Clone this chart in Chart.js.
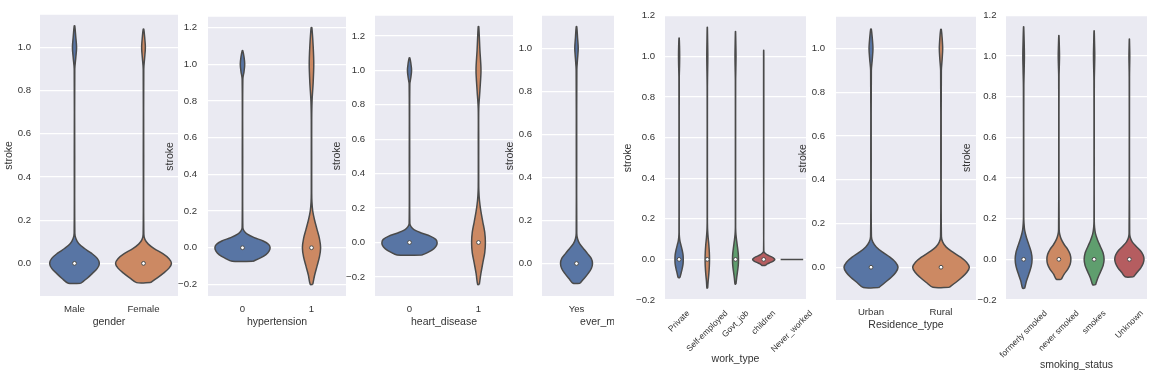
<!DOCTYPE html>
<html><head><meta charset="utf-8">
<script src="https://cdn.jsdelivr.net/npm/chart.js@4"></script>
<style>
html,body{margin:0;padding:0;background:#fff;}
#fig{position:relative;width:1164px;height:377px;overflow:hidden;background:#fff;}
.pane{position:absolute;top:0;height:377px;overflow:hidden;}
canvas{display:block;}
</style></head><body><div id="fig"></div>
<script>
// ---------- tick labels ----------
const yTicksShort = [0.0, 0.2, 0.4, 0.6, 0.8, 1.0];
const yTickLabelsShort = ['0.0', '0.2', '0.4', '0.6', '0.8', '1.0'];
const yTicksLong = [-0.2, 0.0, 0.2, 0.4, 0.6, 0.8, 1.0, 1.2];
const yTickLabelsLong = ['\u22120.2', '0.0', '0.2', '0.4', '0.6', '0.8', '1.0', '1.2'];

// ---------- categories ----------
const genderCats = ['Male', 'Female'];
const hypertensionCats = ['0', '1'];
const heartCats = ['0', '1'];
const marriedCats = ['Yes', 'No'];
const workCats = ['Private', 'Self-employed', 'Govt_job', 'children', 'Never_worked'];
const residenceCats = ['Urban', 'Rural'];
const smokingCats = ['formerly smoked', 'never smoked', 'smokes', 'Unknown'];

// ---------- violin outlines: stroke levels (Y) and half-widths in category units (W) ----------
const genderY = [
  [-0.092,-0.07,-0.046,-0.023,0,0.023,0.046,0.07,0.092,0.115,0.14,0.5,0.9,0.95,1.0,1.05,1.1],
  [-0.089,-0.067,-0.045,-0.022,0,0.022,0.045,0.067,0.089,0.11,0.135,0.5,0.9,0.95,1.0,1.05,1.085]];
const genderW = [
  [0.09,0.18,0.26,0.33,0.36,0.33,0.25,0.14,0.06,0.02,0.005,0.003,0.004,0.018,0.03,0.018,0.004],
  [0.1,0.2,0.29,0.37,0.405,0.37,0.28,0.16,0.07,0.022,0.005,0.003,0.004,0.016,0.027,0.016,0.004]];
const genderMed = [0, 0];

const hypertensionY = [
  [-0.074,-0.055,-0.037,-0.018,0,0.018,0.037,0.055,0.074,0.092,0.11,0.5,0.92,0.96,1.0,1.04,1.074],
  [-0.2,-0.15,-0.1,-0.05,0,0.05,0.1,0.15,0.2,0.25,0.3,0.5,0.7,0.8,0.9,1.0,1.1,1.2]];
const hypertensionW = [
  [0.15,0.26,0.34,0.385,0.40,0.38,0.3,0.17,0.07,0.022,0.005,0.003,0.005,0.022,0.032,0.022,0.004],
  [0.018,0.045,0.08,0.115,0.132,0.115,0.08,0.045,0.018,0.006,0.003,0.003,0.003,0.008,0.024,0.033,0.024,0.005]];
const hypertensionMed = [0, 0];

const heartY = [
  [-0.073,-0.055,-0.037,-0.018,0,0.018,0.037,0.055,0.073,0.092,0.11,0.5,0.92,0.96,1.0,1.04,1.073],
  [-0.244,-0.18,-0.12,-0.06,0,0.06,0.12,0.18,0.244,0.3,0.36,0.6,0.78,0.88,1.0,1.12,1.254]];
const heartW = [
  [0.18,0.28,0.35,0.39,0.40,0.38,0.3,0.17,0.07,0.022,0.005,0.003,0.005,0.02,0.03,0.02,0.004],
  [0.012,0.035,0.062,0.09,0.1,0.09,0.062,0.035,0.014,0.005,0.003,0.003,0.004,0.02,0.036,0.02,0.004]];
const heartMed = [0, 0];

const marriedY = [
  [-0.092,-0.07,-0.046,-0.023,0,0.023,0.046,0.07,0.092,0.115,0.14,0.5,0.9,0.95,1.0,1.05,1.1]];
const marriedW = [
  [0.05,0.11,0.17,0.215,0.232,0.215,0.16,0.1,0.045,0.015,0.004,0.003,0.005,0.015,0.025,0.015,0.004]];
const marriedMed = [0];

const workY = [
  [-0.09,-0.068,-0.045,-0.022,0,0.022,0.045,0.068,0.09,0.112,0.135,0.5,0.9,0.95,1.0,1.05,1.09],
  [-0.142,-0.107,-0.071,-0.035,0,0.035,0.071,0.107,0.142,0.178,0.21,0.5,0.85,0.93,1.0,1.07,1.143],
  [-0.122,-0.092,-0.061,-0.03,0,0.03,0.061,0.092,0.122,0.152,0.18,0.5,0.88,0.94,1.0,1.06,1.122],
  [-0.03,-0.022,-0.015,-0.008,0,0.008,0.015,0.022,0.03,0.04,0.5,1.0,1.03],
  [0]];
const workW = [
  [0.03,0.07,0.11,0.14,0.147,0.14,0.11,0.07,0.03,0.01,0.004,0.004,0.006,0.015,0.02,0.015,0.004],
  [0.012,0.03,0.055,0.072,0.078,0.072,0.055,0.03,0.012,0.005,0.004,0.004,0.005,0.012,0.018,0.012,0.003],
  [0.016,0.04,0.07,0.097,0.106,0.097,0.07,0.04,0.016,0.005,0.004,0.004,0.005,0.012,0.018,0.012,0.003],
  [0.06,0.13,0.24,0.34,0.395,0.34,0.24,0.13,0.05,0.004,0.004,0.004,0.002],
  [0.4]];
const workMed = [0, 0, 0, 0, null];

const residenceY = [
  [-0.093,-0.07,-0.046,-0.023,0,0.023,0.046,0.07,0.093,0.116,0.14,0.5,0.9,0.95,1.0,1.05,1.09],
  [-0.092,-0.07,-0.046,-0.023,0,0.023,0.046,0.07,0.092,0.115,0.14,0.5,0.9,0.95,1.0,1.05,1.088]];
const residenceW = [
  [0.11,0.2,0.29,0.355,0.386,0.35,0.27,0.16,0.075,0.025,0.006,0.003,0.005,0.018,0.028,0.018,0.004],
  [0.115,0.21,0.3,0.37,0.405,0.365,0.28,0.165,0.075,0.025,0.006,0.003,0.005,0.016,0.024,0.016,0.004]];
const residenceMed = [0, 0];

const smokingY = [
  [-0.142,-0.107,-0.071,-0.035,0,0.035,0.071,0.107,0.142,0.178,0.21,0.5,0.85,0.93,1.0,1.07,1.143],
  [-0.098,-0.073,-0.049,-0.024,0,0.024,0.049,0.073,0.098,0.122,0.147,0.5,0.9,0.95,1.0,1.05,1.1],
  [-0.125,-0.094,-0.062,-0.031,0,0.031,0.062,0.094,0.125,0.156,0.187,0.5,0.88,0.94,1.0,1.06,1.123],
  [-0.086,-0.064,-0.043,-0.021,0,0.021,0.043,0.064,0.086,0.107,0.13,0.5,0.9,0.95,1.0,1.04,1.083]];
const smokingW = [
  [0.03,0.08,0.15,0.215,0.24,0.215,0.15,0.08,0.03,0.01,0.004,0.003,0.006,0.015,0.022,0.015,0.003],
  [0.07,0.15,0.25,0.32,0.34,0.32,0.25,0.15,0.07,0.025,0.008,0.003,0.005,0.012,0.018,0.012,0.003],
  [0.04,0.1,0.18,0.255,0.283,0.255,0.18,0.1,0.04,0.013,0.004,0.003,0.005,0.012,0.018,0.012,0.003],
  [0.12,0.22,0.32,0.39,0.415,0.39,0.31,0.19,0.08,0.025,0.008,0.003,0.004,0.008,0.012,0.008,0.002]];
const smokingMed = [0, 0, 0, 0];

// ---------- styling ----------
const FONT = '"Liberation Sans", Arial, sans-serif';
const TXT = '#333333';
const GRAY = '#4a4a4a';
const PAL = ['#5875A4', '#CC8963', '#5F9E6E', '#B55D60', '#857AAB'];

const panels = [
  {title:'gender', cats:genderCats, Y:genderY, W:genderW, med:genderMed, yt:yTicksShort, ytl:yTickLabelsShort,
   ymin:-0.151, ymax:1.151, L:3, l:40, r:178, t:14, b:296, clip:null, xTitleY:321.7, xTickPad:7.5, yTickPad:9, rotated:false},
  {title:'hypertension', cats:hypertensionCats, Y:hypertensionY, W:hypertensionW, med:hypertensionMed, yt:yTicksLong, ytl:yTickLabelsLong,
   ymin:-0.263, ymax:1.259, L:164, l:208, r:346, t:14, b:296, clip:null, xTitleY:321.7, xTickPad:7.5, yTickPad:11, rotated:false},
  {title:'heart_disease', cats:heartCats, Y:heartY, W:heartW, med:heartMed, yt:yTicksLong, ytl:yTickLabelsLong,
   ymin:-0.311, ymax:1.317, L:331, l:375, r:513, t:14, b:296, clip:null, xTitleY:322.5, xTickPad:7.5, yTickPad:10, rotated:false},
  {title:'ever_married', cats:marriedCats, Y:marriedY, W:marriedW, med:marriedMed, yt:yTicksShort, ytl:yTickLabelsShort,
   ymin:-0.151, ymax:1.151, L:504, l:542, r:680, t:14, b:296, clip:614, xTitleY:321.7, xTickPad:7.5, yTickPad:10, rotated:false},
  {title:'work_type', cats:workCats, Y:workY, W:workW, med:workMed, yt:yTicksLong, ytl:yTickLabelsLong,
   ymin:-0.2, ymax:1.2, L:622, l:665, r:806, t:13, b:300, clip:null, xTitleY:359.3, xTickPad:7.5, yTickPad:10, rotated:true},
  {title:'Residence_type', cats:residenceCats, Y:residenceY, W:residenceW, med:residenceMed, yt:yTicksShort, ytl:yTickLabelsShort,
   ymin:-0.150, ymax:1.146, L:797, l:836, r:976, t:13, b:300, clip:null, xTitleY:325, xTickPad:7, yTickPad:11, rotated:false},
  {title:'smoking_status', cats:smokingCats, Y:smokingY, W:smokingW, med:smokingMed, yt:yTicksLong, ytl:yTickLabelsLong,
   ymin:-0.2, ymax:1.2, L:961, l:1006, r:1147, t:13, b:300, clip:null, xTitleY:365, xTickPad:7.5, yTickPad:9.5, rotated:true}
];

const EXTRA = 14; // room to the right of the plot for overhanging labels

const bgPlugin = {
  id: 'bg',
  beforeDraw(chart) {
    const {ctx, chartArea: a} = chart;
    ctx.save();
    ctx.fillStyle = '#EAEAF2';
    ctx.fillRect(a.left, a.top, a.right - a.left, a.bottom - a.top);
    ctx.restore();
  }
};

function rotPlugin(p) {
  return {
    id: 'rot',
    afterDraw(chart) {
      const ctx = chart.ctx, xs = chart.scales.x, a = chart.chartArea;
      const fs = 8.5;
      ctx.save();
      ctx.font = fs + 'px ' + FONT;
      ctx.fillStyle = TXT;
      ctx.textAlign = 'center';
      ctx.textBaseline = 'middle';
      p.cats.forEach((c, i) => {
        const w = ctx.measureText(c).width;
        const hh = (w + fs) * Math.SQRT1_2 / 2;
        const x = xs.getPixelForValue(i);
        const y = a.bottom + 9 + hh;
        ctx.save();
        ctx.translate(x, y);
        ctx.rotate(-Math.PI / 4);
        ctx.fillText(c, 0, 0);
        ctx.restore();
      });
      ctx.restore();
    }
  };
}

const fig = document.getElementById('fig');
panels.forEach(p => {
  const n = p.cats.length;
  const cw = p.r - p.L + EXTRA;
  const pane = document.createElement('div');
  pane.className = 'pane';
  pane.style.left = p.L + 'px';
  pane.style.width = (p.clip ? p.clip - p.L : cw) + 'px';
  const cv = document.createElement('canvas');
  cv.width = cw; cv.height = 377;
  cv.style.width = cw + 'px'; cv.style.height = '377px';
  pane.appendChild(cv);
  fig.appendChild(pane);

  const datasets = [];
  const medPts = [];
  p.Y.forEach((ys, i) => {
    const ws = p.W[i];
    if (ys.length === 1) {
      datasets.push({data: [{x: i - ws[0], y: ys[0]}, {x: i + ws[0], y: ys[0]}],
        borderColor: GRAY, borderWidth: 1.5, pointRadius: 0, fill: false, order: 2});
    } else {
      const pts = [];
      for (let k = 0; k < ys.length; k++) pts.push({x: i + ws[k], y: ys[k]});
      for (let k = ys.length - 1; k >= 0; k--) pts.push({x: i - ws[k], y: ys[k]});
      pts.push(pts[0]);
      datasets.push({data: pts, borderColor: GRAY, borderWidth: 1.5, backgroundColor: PAL[i % PAL.length],
        pointRadius: 0, fill: 'shape', tension: 0.3, order: 2});
    }
    if (p.med[i] !== null && p.med[i] !== undefined) medPts.push({x: i, y: p.med[i]});
  });
  datasets.push({data: medPts, showLine: false, pointRadius: 1.9, pointHoverRadius: 1.9, pointBackgroundColor: '#ffffff',
    pointBorderColor: GRAY, pointBorderWidth: 1, order: 0});

  const plugins = [bgPlugin];
  if (p.rotated) plugins.push(rotPlugin(p));

  new Chart(cv, {
    type: 'line',
    data: {datasets},
    plugins,
    options: {
      responsive: false, animation: false, devicePixelRatio: 1, events: [],
      layout: {autoPadding: false, padding: {top: p.t, left: 0, right: EXTRA, bottom: 0}},
      plugins: {legend: {display: false}, tooltip: {enabled: false}},
      scales: {
        x: {
          type: 'linear', min: -0.5, max: n - 0.5, bounds: 'data',
          grid: {display: false, drawTicks: false}, border: {display: false},
          afterBuildTicks: s => { s.ticks = p.cats.map((c, i) => ({value: i})); },
          afterFit: s => { s.height = 377 - p.b; },
          ticks: {display: !p.rotated, autoSkip: false, maxRotation: 0, minRotation: 0, padding: p.xTickPad,
            color: TXT, font: {family: FONT, size: 9.6}, callback: (v, i) => p.cats[i]},
          title: {display: true, text: p.title, color: TXT, font: {family: FONT, size: 10.5},
            padding: {top: 0, bottom: 377 - p.xTitleY - 6.3}}
        },
        y: {
          type: 'linear', min: p.ymin, max: p.ymax, bounds: 'data',
          grid: {color: '#ffffff', lineWidth: 1.2, drawTicks: false}, border: {display: false},
          afterBuildTicks: s => { s.ticks = p.yt.map(v => ({value: v})); },
          afterFit: s => { s.width = p.l - p.L; },
          ticks: {autoSkip: false, padding: p.yTickPad, color: TXT, font: {family: FONT, size: 9.6},
            callback: (v, i) => p.ytl[i]},
          title: {display: true, text: 'stroke', color: TXT, font: {family: FONT, size: 10.5},
            padding: {top: 0, bottom: 0}}
        }
      }
    }
  });
});
</script>
</body></html>
